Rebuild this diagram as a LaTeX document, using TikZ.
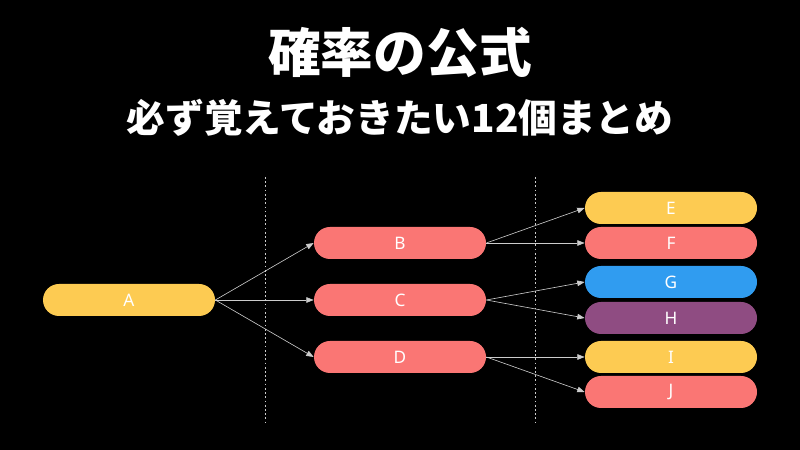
\documentclass[tikz,border=0pt]{standalone}
\usepackage{fontspec}
\usepackage{tikz}
\usetikzlibrary{arrows.meta}
\setsansfont{Noto Sans}
\newfontfamily\cjk{Noto Sans CJK JP}
\definecolor{bgblack}{HTML}{000000}
\definecolor{pillyellow}{HTML}{FDCB52}
\definecolor{pillred}{HTML}{FA7674}
\definecolor{pillblue}{HTML}{309CF0}
\definecolor{pillpurple}{HTML}{8F4C82}
\definecolor{linkgray}{HTML}{CCCCCC}

\begin{document}
\begin{tikzpicture}[x=0.2mm,y=0.2mm]
\tikzstyle{every node}+=[inner sep=0pt]
\tikzstyle{pill}=[rectangle, rounded corners=3.2mm, minimum width=34.4mm, minimum height=6.4mm, text=white, font=\sffamily\fontsize{9.8}{10}\selectfont]
\tikzstyle{link}=[draw=linkgray, line width=0.35pt, -{Triangle[length=4.2pt,width=3.2pt]}]
\tikzstyle{divider}=[draw=linkgray, line width=0.5pt, dash pattern=on 1pt off 1.4pt]
\fill [bgblack] (0,0) rectangle (800,-450);
\useasboundingbox (0,0) rectangle (800,-450);
\node (title) at (400,-52) [text=white, font=\cjk\bfseries\fontsize{30}{32}\selectfont] {確率の公式};
\node (subtitle) at (400,-118) [text=white, font=\cjk\bfseries\fontsize{22}{24}\selectfont] {必ず覚えておきたい12個まとめ};
\draw [divider] (265,-177) -- (265,-423);
\draw [divider] (535,-177) -- (535,-423);
\node (A) at (129,-300) [pill, fill=pillyellow] {A};
\node (B) at (400,-243) [pill, fill=pillred] {B};
\node (C) at (400,-300) [pill, fill=pillred] {C};
\node (D) at (400,-357) [pill, fill=pillred] {D};
\node (E) at (671,-208) [pill, fill=pillyellow] {E};
\node (F) at (671,-243) [pill, fill=pillred] {F};
\node (G) at (671,-282) [pill, fill=pillblue] {G};
\node (H) at (671,-318) [pill, fill=pillpurple] {H};
\node (I) at (671,-357) [pill, fill=pillyellow] {I};
\node (J) at (671,-392) [pill, fill=pillred] {J};
\draw [link] (A.east) -- (B.west);
\draw [link] (A.east) -- (C.west);
\draw [link] (A.east) -- (D.west);
\draw [link] (B.east) -- (E.west);
\draw [link] (B.east) -- (F.west);
\draw [link] (C.east) -- (G.west);
\draw [link] (C.east) -- (H.west);
\draw [link] (D.east) -- (I.west);
\draw [link] (D.east) -- (J.west);
\end{tikzpicture}
\end{document}
